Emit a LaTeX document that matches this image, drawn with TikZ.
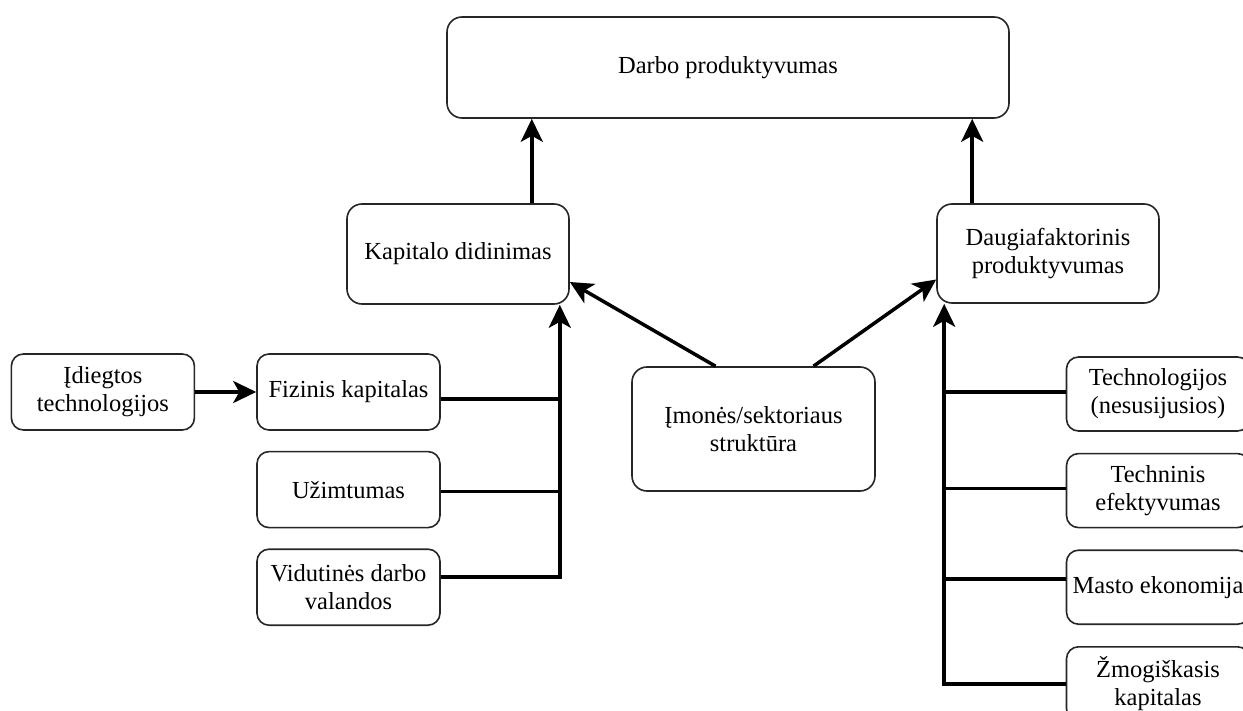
\documentclass[tikz,border=0pt]{standalone}
\usepackage{fontspec}
\setmainfont{Liberation Serif}
\usetikzlibrary{arrows.meta, positioning, calc}
\tikzset{
  box/.style={rectangle, rounded corners=12pt, draw=black!85, line width=1.6pt, fill=white,
    align=center, font=\fontsize{24.5}{28}\selectfont, inner sep=2pt},
  sidebox/.style={box, minimum width=183pt, minimum height=76pt},
  sideboxr/.style={sidebox, minimum height=74pt},
  midbox/.style={box, rounded corners=15pt, minimum width=222pt, minimum height=100pt},
  arrow/.style={-{Stealth[length=23pt, width=22pt, inset=6pt]}, line width=3.5pt},
  link/.style={line width=3.5pt},
}
\begin{document}
\begin{tikzpicture}[x=1pt, y=-1pt, node distance=20pt]
\useasboundingbox (0,0) rectangle (1243,711);
\node[box, rounded corners=15pt, minimum width=562pt, minimum height=101pt] (top) at (728,67.5) {Darbo produktyvumas};
\node[midbox] (kap) at (458,254) {Kapitalo didinimas};
\node[midbox, minimum height=99pt] (daug) at (1048,253.5) {Daugiafaktorinis\\produktyvumas};
\node[midbox, minimum width=243pt, minimum height=124pt] (imon) at (753.5,429) {Įmonės/sektoriaus\\struktūra};
% left stack
\node[sidebox] (fiz) at (348.5,392) {Fizinis kapitalas};
\node[sidebox, left=61pt of fiz] (idieg) {Įdiegtos\\technologijos};
\node[sidebox, below=of fiz] (uzim) {Užimtumas};
\node[sidebox, below=of uzim] (vid) {Vidutinės darbo\\valandos};
% right stack
\node[sideboxr] (tech) at (1158,394) {Technologijos\\(nesusijusios)};
\node[sideboxr, below=21pt of tech] (techn) {Techninis\\efektyvumas};
\node[sideboxr, below=21pt of techn] (masto) {Masto ekonomija};
\node[sideboxr, below=21pt of masto] (zmog) {Žmogiškasis\\kapitalas};
% connectors
\draw[arrow] ([xshift=-38pt]kap.north east) -- ([xshift=-38pt]kap.north east |- top.south);
\draw[arrow] ([xshift=36pt]daug.north west) -- ([xshift=36pt]daug.north west |- top.south);
\draw[arrow] ([xshift=-38pt]imon.north) -- ([yshift=-28pt]kap.east);
\draw[arrow] ([xshift=60pt]imon.north) -- ([yshift=-26pt]daug.west);
\draw[arrow] (idieg) -- (fiz);
\coordinate (lbus) at ([xshift=-10pt]kap.south east);
\coordinate (rbus) at ([xshift=8pt]daug.south west);
\draw[arrow] ([yshift=10pt]vid.east) -| (lbus);
\foreach \n/\s in {fiz/-7pt, uzim/-2pt}
  \draw[link] ([yshift=\s]\n.east) -- ([yshift=\s]\n.east -| lbus);
\draw[arrow] (zmog.west) -| (rbus);
\foreach \n/\s in {tech/2pt, techn/2pt, masto/8pt}
  \draw[link] ([yshift=\s]\n.west) -- ([yshift=\s]\n.west -| rbus);
\end{tikzpicture}
\end{document}
